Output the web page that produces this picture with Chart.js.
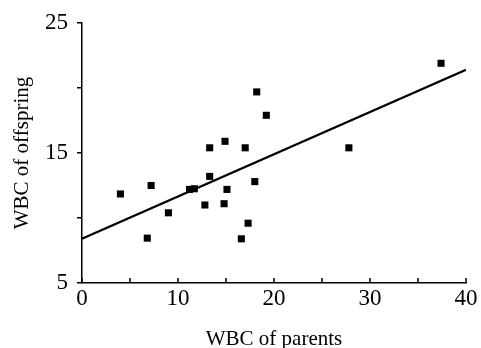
<!DOCTYPE html>
<html>
<head>
<meta charset="utf-8">
<script src="https://cdn.jsdelivr.net/npm/chart.js@4"></script>
<style>
  html, body { margin: 0; padding: 0; background: #fff; }
  #wrap { width: 481px; height: 348px; }
</style>
</head>
<body>
<div id="wrap"><canvas id="chart" width="481" height="348"></canvas></div>
<script>
// WBC of parents vs WBC of offspring
const parentWbc = [4.0, 7.2, 6.8, 9.0, 11.2, 11.7, 12.8, 13.3, 13.3, 14.9, 15.1, 14.8, 16.6, 17.0, 17.3, 18.0, 18.2, 19.2, 27.8, 37.4];
const offspringWbc = [11.85, 12.5, 8.45, 10.4, 12.2, 12.25, 11.0, 15.4, 13.2, 15.9, 12.2, 11.1, 8.4, 15.4, 9.6, 12.8, 19.7, 17.9, 15.4, 21.9];

// regression line end points
const fitX = [0, 40];
const fitY = [8.4, 21.4];

const xLabelTicks = [0, 10, 20, 30, 40];
const yLabelTicks = [5, 15, 25];

const serif = "'Liberation Serif', 'DejaVu Serif', serif";

const points = parentWbc.map((x, i) => ({ x: x, y: offspringWbc[i] }));
const fitLine = fitX.map((x, i) => ({ x: x, y: fitY[i] }));

// x ticks point up into the plot, like the original
const innerTicks = {
  id: 'innerTicks',
  afterDraw(chart) {
    const { ctx, chartArea } = chart;
    const xs = chart.scales.x;
    ctx.save();
    ctx.strokeStyle = '#000';
    ctx.lineWidth = 1.5;
    xs.ticks.forEach((t) => {
      const px = xs.getPixelForValue(t.value);
      ctx.beginPath();
      ctx.moveTo(px, chartArea.bottom);
      ctx.lineTo(px, chartArea.bottom - 5);
      ctx.stroke();
    });
    ctx.restore();
  }
};

new Chart(document.getElementById('chart'), {
  type: 'scatter',
  data: {
    datasets: [
      {
        label: 'offspring',
        data: points,
        pointStyle: 'rect',
        pointRadius: 5,
        pointHoverRadius: 5,
        backgroundColor: '#000',
        borderColor: '#000',
        borderWidth: 0
      },
      {
        label: 'fit',
        type: 'line',
        data: fitLine,
        borderColor: '#000',
        borderWidth: 2.2,
        pointRadius: 0,
        fill: false
      }
    ]
  },
  options: {
    responsive: false,
    animation: false,
    devicePixelRatio: 1,
    layout: { padding: { left: 0, right: 15, top: 23, bottom: 0 } },
    plugins: { legend: { display: false }, tooltip: { enabled: false } },
    scales: {
      x: {
        type: 'linear',
        min: 0,
        max: 40,
        afterFit: (s) => { s.height = 65; },
        border: { display: true, color: '#000', width: 1.5 },
        grid: { drawOnChartArea: false, drawTicks: false },
        ticks: {
          stepSize: 5,
          padding: 2,
          color: '#000',
          font: { family: serif, size: 23 },
          maxRotation: 0,
          callback: (v) => (xLabelTicks.includes(v) ? String(v) : '')
        },
        title: {
          display: true,
          text: 'WBC of parents',
          color: '#000',
          font: { family: serif, size: 21, lineHeight: 0.85 },
          padding: { top: 4, bottom: 0 }
        }
      },
      y: {
        type: 'linear',
        min: 5,
        max: 25,
        afterFit: (s) => { s.width = 82; },
        border: { display: true, color: '#000', width: 1.5 },
        grid: { drawOnChartArea: false, drawTicks: true, tickLength: 5, color: '#000', lineWidth: 1.5 },
        ticks: {
          stepSize: 5,
          padding: 9,
          color: '#000',
          font: { family: serif, size: 23 },
          callback: (v) => (yLabelTicks.includes(v) ? String(v) : '')
        },
        title: {
          display: true,
          text: 'WBC of offspring',
          color: '#000',
          font: { family: serif, size: 21 },
          padding: { top: 10, bottom: 6 }
        }
      }
    }
  },
  plugins: [innerTicks]
});
</script>
</body>
</html>
